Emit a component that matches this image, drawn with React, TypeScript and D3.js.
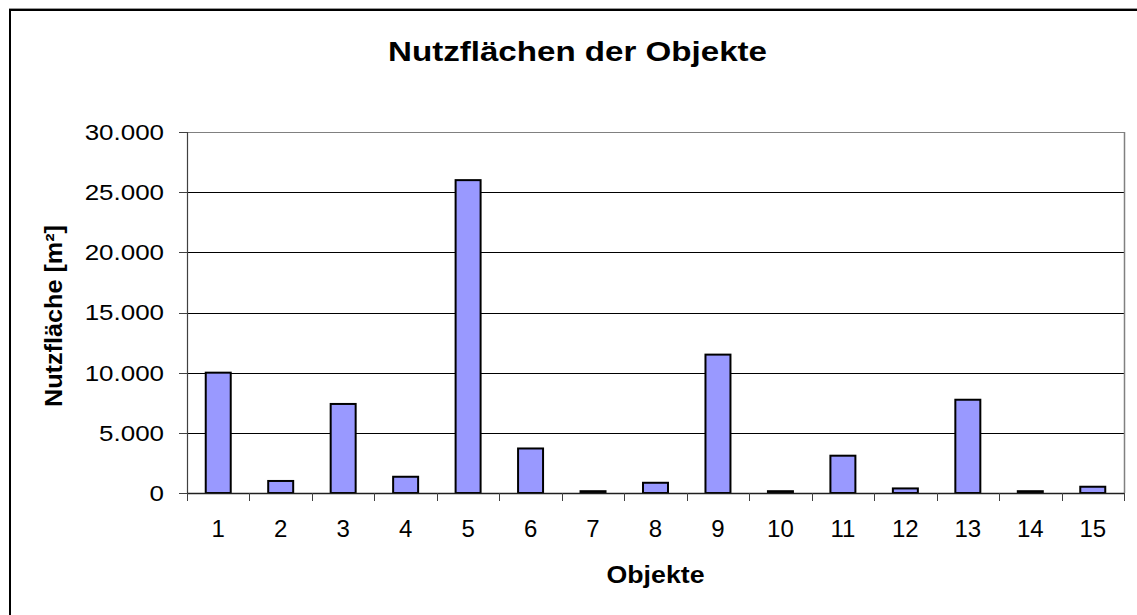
import * as d3 from "d3";

// Nutzfläche per object
const objekte = ["1", "2", "3", "4", "5", "6", "7", "8", "9", "10", "11", "12", "13", "14", "15"];
const nutzflaeche = [10000, 1000, 7400, 1350, 26000, 3700, 150, 850, 11500, 150, 3100, 380, 7750, 150, 520];
const yTicks = [0, 5000, 10000, 15000, 20000, 25000, 30000];

const W = 1137;
const H = 615;
const plot = { left: 187, right: 1124, top: 132, bottom: 493 };
const font = "'Liberation Sans', Arial, sans-serif";

const fmt = (v: number) => d3.format(",")(v).replace(/,/g, ".");

export default function App() {
  const x = d3
    .scaleBand<string>()
    .domain(objekte)
    .range([plot.left, plot.right])
    .paddingInner(0.6)
    .paddingOuter(0.3);
  const band = d3.scaleBand<string>().domain(objekte).range([plot.left, plot.right]);
  const y = d3.scaleLinear().domain([0, 30000]).range([plot.bottom, plot.top]);

  const cx = (plot.left + plot.right) / 2;

  return (
    <div style={{ position: "absolute", left: 0, top: 0 }}>
      <svg width={W} height={H} style={{ display: "block", background: "#fff" }}>
        {/* chart frame */}
        <line x1={9} x2={W} y1={8.5} y2={8.5} stroke="#999" strokeWidth={1} />
        <rect x={10} y={10} width={W} height={H} fill="none" stroke="#000" strokeWidth={2} />

        <text
          x={577.5}
          y={61}
          textAnchor="middle"
          fontFamily={font}
          fontWeight="bold"
          fontSize={28}
          textLength={379}
          lengthAdjust="spacingAndGlyphs"
          fill="#000"
        >
          Nutzflächen der Objekte
        </text>

        {/* gridlines */}
        {yTicks.map((t) => (
          <line
            key={"g" + t}
            x1={plot.left}
            x2={plot.right}
            y1={Math.round(y(t)) + 0.5}
            y2={Math.round(y(t)) + 0.5}
            stroke={t === 30000 ? "#808080" : "#000"}
            strokeWidth={1}
          />
        ))}
        {/* plot border right */}
        <line
          x1={plot.right + 0.5}
          x2={plot.right + 0.5}
          y1={plot.top}
          y2={plot.bottom}
          stroke="#808080"
          strokeWidth={1.5}
        />

        {/* bars */}
        {objekte.map((o, i) => (
          <rect
            key={"b" + o}
            x={x(o)}
            y={y(nutzflaeche[i])}
            width={x.bandwidth()}
            height={plot.bottom - y(nutzflaeche[i])}
            fill="#9999FF"
            stroke="#000"
            strokeWidth={2}
          />
        ))}

        {/* y axis */}
        <line
          x1={plot.left + 0.5}
          x2={plot.left + 0.5}
          y1={plot.top}
          y2={plot.bottom}
          stroke="#404040"
          strokeWidth={1.2}
        />
        {yTicks.map((t) => (
          <g key={"y" + t}>
            <line
              x1={plot.left - 8}
              x2={plot.left}
              y1={Math.round(y(t)) + 0.5}
              y2={Math.round(y(t)) + 0.5}
              stroke="#404040"
              strokeWidth={1}
            />
            <text
              transform={`translate(164,${y(t)}) scale(1.18,1)`}
              dy="0.36em"
              textAnchor="end"
              fontFamily={font}
              fontSize={22}
              fill="#000"
            >
              {fmt(t)}
            </text>
          </g>
        ))}

        {/* x axis */}
        <line
          x1={plot.left}
          x2={plot.right}
          y1={plot.bottom + 0.5}
          y2={plot.bottom + 0.5}
          stroke="#202020"
          strokeWidth={1.5}
        />
        {[...objekte.map((o) => band(o) as number), plot.right].map((bx, i) => (
          <line
            key={"xt" + i}
            x1={Math.round(bx) + 0.5}
            x2={Math.round(bx) + 0.5}
            y1={plot.bottom}
            y2={plot.bottom + 8}
            stroke="#404040"
            strokeWidth={1}
          />
        ))}
        {objekte.map((o) => (
          <text
            key={"xl" + o}
            x={(band(o) as number) + band.bandwidth() / 2}
            y={537}
            textAnchor="middle"
            fontFamily={font}
            fontSize={24}
            fill="#000"
          >
            {o}
          </text>
        ))}

        {/* axis titles */}
        <text
          x={cx}
          y={583}
          textAnchor="middle"
          fontFamily={font}
          fontWeight="bold"
          fontSize={24}
          textLength={98}
          lengthAdjust="spacingAndGlyphs"
          fill="#000"
        >
          Objekte
        </text>
        <text
          transform="translate(62,316) rotate(-90)"
          textAnchor="middle"
          fontFamily={font}
          fontWeight="bold"
          fontSize={23}
          textLength={182}
          lengthAdjust="spacingAndGlyphs"
          fill="#000"
        >
          Nutzfläche [m²]
        </text>
      </svg>
    </div>
  );
}
